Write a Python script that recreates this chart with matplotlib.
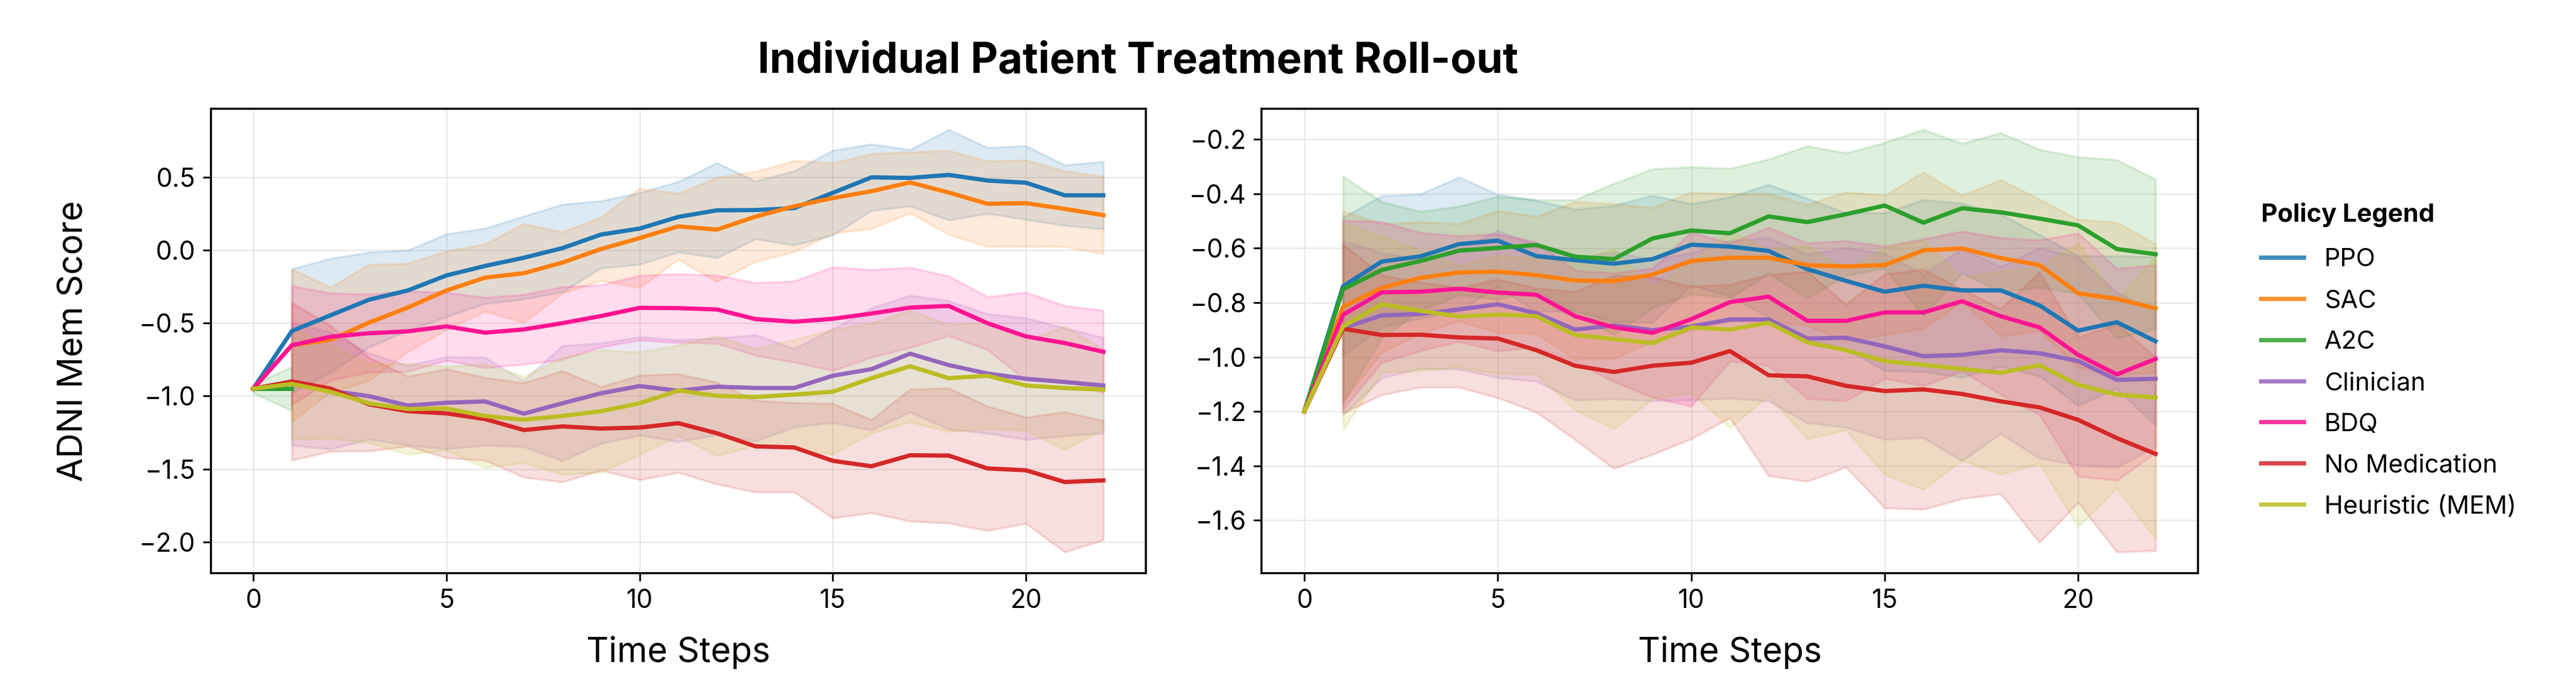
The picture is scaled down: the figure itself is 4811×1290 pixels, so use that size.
import matplotlib
matplotlib.use("Agg")
import matplotlib.pyplot as plt
import numpy as np
from matplotlib.lines import Line2D

plt.rcParams['font.family'] = ['Inter', 'DejaVu Sans']

nan = np.nan
steps = np.arange(23)

policies = ['PPO', 'SAC', 'A2C', 'Clinician', 'BDQ', 'No Medication', 'Heuristic (MEM)']
colors = ['#1f77b4', '#ff7f0e', '#2ca02c', '#9467bd', '#ff1493', '#d62728', '#bcbd22']

# left panel: mean and std per policy
left_ppo_mean = [-0.95, -0.555, -0.447, -0.340, -0.277, -0.174, -0.109, -0.053, 0.013, 0.106, 0.147, 0.227,
                 0.272, 0.274, 0.287, 0.392, 0.498, 0.494, 0.515, 0.476, 0.461, 0.375, 0.375]
left_ppo_std = [nan, 0.426, 0.389, 0.325, 0.275, 0.284, 0.258, 0.284, 0.30, 0.23, 0.245, 0.241,
                0.325, 0.198, 0.254, 0.291, 0.228, 0.193, 0.31, 0.226, 0.252, 0.207, 0.231]
left_sac_mean = [-0.95, -0.652, -0.615, -0.497, -0.394, -0.277, -0.189, -0.159, -0.086, 0.007, 0.082, 0.162,
                 0.140, 0.229, 0.300, 0.356, 0.403, 0.463, 0.394, 0.317, 0.321, 0.282, 0.239]
left_sac_std = [nan, 0.523, 0.359, 0.398, 0.302, 0.269, 0.23, 0.338, 0.211, 0.217, 0.34, 0.226,
                0.356, 0.308, 0.312, 0.241, 0.256, 0.209, 0.287, 0.293, 0.295, 0.259, 0.265]
left_a2c_mean = [-0.95, -0.95]
left_a2c_std = [0.03, 0.15]
left_clin_mean = [-0.95, -0.917, -0.964, -1.001, -1.065, -1.046, -1.037, -1.121, -1.050, -0.981, -0.932, -0.964,
                  -0.936, -0.945, -0.945, -0.861, -0.816, -0.710, -0.788, -0.846, -0.882, -0.904, -0.928]
left_clin_std = [nan, 0.42, 0.40, 0.295, 0.273, 0.316, 0.301, 0.226, 0.394, 0.344, 0.336, 0.349,
                 0.331, 0.364, 0.269, 0.321, 0.418, 0.40, 0.44, 0.409, 0.417, 0.37, 0.328]
left_bdq_mean = [-0.95, -0.652, -0.594, -0.570, -0.557, -0.523, -0.566, -0.544, -0.501, -0.452, -0.396, -0.398,
                 -0.407, -0.473, -0.491, -0.471, -0.435, -0.394, -0.383, -0.501, -0.592, -0.637, -0.697]
left_bdq_std = [nan, 0.407, 0.299, 0.267, 0.275, 0.233, 0.241, 0.239, 0.249, 0.213, 0.222, 0.235,
                0.233, 0.249, 0.278, 0.355, 0.30, 0.274, 0.205, 0.181, 0.302, 0.256, 0.282]
left_nomed_mean = [-0.95, -0.900, -0.949, -1.057, -1.104, -1.119, -1.158, -1.233, -1.208, -1.223, -1.216, -1.186,
                   -1.255, -1.345, -1.352, -1.444, -1.481, -1.406, -1.408, -1.496, -1.509, -1.589, -1.578]
left_nomed_std = [nan, 0.54, 0.43, 0.32, 0.24, 0.304, 0.284, 0.323, 0.381, 0.286, 0.358, 0.338,
                  0.349, 0.313, 0.306, 0.392, 0.319, 0.452, 0.463, 0.426, 0.364, 0.48, 0.409]
left_heur_mean = [-0.95, -0.917, -0.971, -1.050, -1.089, -1.085, -1.137, -1.162, -1.137, -1.104, -1.050, -0.962,
                  -0.999, -1.007, -0.990, -0.971, -0.878, -0.796, -0.878, -0.861, -0.928, -0.945, -0.956]
left_heur_std = [nan, 0.38, 0.32, 0.27, 0.31, 0.287, 0.355, 0.295, 0.40, 0.418, 0.351, 0.31,
                 0.41, 0.33, 0.375, 0.427, 0.377, 0.381, 0.366, 0.364, 0.308, 0.422, 0.272]

# right panel
right_ppo_mean = [-1.2, -0.740, -0.649, -0.630, -0.585, -0.572, -0.629, -0.644, -0.657, -0.640, -0.587, -0.594,
                  -0.610, -0.677, -0.720, -0.760, -0.738, -0.755, -0.755, -0.810, -0.903, -0.872, -0.942]
right_ppo_std = [nan, 0.253, 0.241, 0.229, 0.246, 0.17, 0.204, 0.187, 0.214, 0.234, 0.15, 0.182,
                 0.244, 0.26, 0.25, 0.29, 0.316, 0.32, 0.28, 0.26, 0.275, 0.244, 0.31]
right_sac_mean = [-1.2, -0.815, -0.746, -0.709, -0.689, -0.686, -0.699, -0.719, -0.721, -0.697, -0.647, -0.635,
                  -0.635, -0.662, -0.667, -0.662, -0.608, -0.601, -0.636, -0.662, -0.766, -0.786, -0.821]
right_sac_std = [nan, 0.351, 0.236, 0.205, 0.179, 0.224, 0.215, 0.29, 0.284, 0.246, 0.253, 0.235,
                 0.235, 0.222, 0.274, 0.256, 0.287, 0.195, 0.287, 0.242, 0.271, 0.281, 0.236]
right_a2c_mean = [-1.2, -0.751, -0.680, -0.647, -0.609, -0.599, -0.588, -0.631, -0.640, -0.564, -0.535, -0.545,
                  -0.483, -0.504, -0.475, -0.443, -0.506, -0.453, -0.468, -0.491, -0.516, -0.603, -0.622]
right_a2c_std = [nan, 0.415, 0.251, 0.182, 0.163, 0.189, 0.166, 0.209, 0.278, 0.255, 0.234, 0.238,
                 0.21, 0.28, 0.225, 0.231, 0.342, 0.238, 0.292, 0.254, 0.251, 0.328, 0.275]
right_clin_mean = [-1.2, -0.894, -0.847, -0.842, -0.825, -0.806, -0.839, -0.899, -0.884, -0.901, -0.888, -0.862,
                   -0.862, -0.932, -0.929, -0.961, -0.997, -0.992, -0.975, -0.986, -1.015, -1.084, -1.080]
right_clin_std = [nan, 0.32, 0.23, 0.20, 0.22, 0.27, 0.25, 0.26, 0.27, 0.26, 0.27, 0.29,
                  0.30, 0.31, 0.33, 0.342, 0.30, 0.39, 0.307, 0.387, 0.382, 0.321, 0.25]
right_bdq_mean = [-1.2, -0.845, -0.762, -0.760, -0.749, -0.763, -0.771, -0.850, -0.891, -0.911, -0.861, -0.798,
                  -0.778, -0.867, -0.867, -0.836, -0.836, -0.795, -0.850, -0.891, -0.992, -1.064, -1.007]
right_bdq_std = [nan, 0.347, 0.259, 0.217, 0.194, 0.215, 0.193, 0.168, 0.2, 0.237, 0.32, 0.217,
                 0.254, 0.286, 0.294, 0.243, 0.27, 0.257, 0.288, 0.321, 0.447, 0.389, 0.345]
right_nomed_mean = [-1.2, -0.896, -0.919, -0.918, -0.928, -0.932, -0.975, -1.032, -1.055, -1.032, -1.021, -0.978,
                    -1.067, -1.071, -1.106, -1.125, -1.119, -1.136, -1.163, -1.185, -1.231, -1.298, -1.356]
right_nomed_std = [nan, 0.31, 0.22, 0.193, 0.183, 0.218, 0.228, 0.272, 0.355, 0.326, 0.28, 0.245,
                   0.37, 0.386, 0.299, 0.43, 0.441, 0.385, 0.34, 0.497, 0.304, 0.419, 0.356]
right_heur_mean = [-1.2, -0.888, -0.806, -0.830, -0.851, -0.844, -0.850, -0.919, -0.934, -0.949, -0.891, -0.899,
                   -0.874, -0.946, -0.975, -1.015, -1.029, -1.044, -1.058, -1.030, -1.102, -1.138, -1.149]
right_heur_std = [nan, 0.38, 0.25, 0.22, 0.187, 0.217, 0.214, 0.275, 0.33, 0.205, 0.24, 0.36,
                  0.27, 0.355, 0.294, 0.416, 0.458, 0.335, 0.373, 0.361, 0.522, 0.345, 0.519]

left_series = [(left_ppo_mean, left_ppo_std), (left_sac_mean, left_sac_std), (left_a2c_mean, left_a2c_std),
               (left_clin_mean, left_clin_std), (left_bdq_mean, left_bdq_std),
               (left_nomed_mean, left_nomed_std), (left_heur_mean, left_heur_std)]
right_series = [(right_ppo_mean, right_ppo_std), (right_sac_mean, right_sac_std), (right_a2c_mean, right_a2c_std),
                (right_clin_mean, right_clin_std), (right_bdq_mean, right_bdq_std),
                (right_nomed_mean, right_nomed_std), (right_heur_mean, right_heur_std)]

fig = plt.figure(figsize=(4811 / 300, 1290 / 300), dpi=300)
ax1 = fig.add_axes([0.0818, 0.1705, 0.3630, 0.6725])
ax2 = fig.add_axes([0.4898, 0.1705, 0.3635, 0.6725])

for ax, series in [(ax1, left_series), (ax2, right_series)]:
    for (mean, std), c in zip(series, colors):
        m = np.array(mean)
        s = np.array(std)
        x = steps[:len(m)]
        ax.fill_between(x, m - s, m + s, color=c, alpha=0.15, linewidth=1.0)
        ax.plot(x, m, color=c, linewidth=1.9)
    ax.grid(True, color='#e3e3e3', linewidth=0.6, alpha=0.8)
    ax.set_axisbelow(True)
    ax.tick_params(labelsize=11.5, length=3.5, width=0.8)
    for sp in ax.spines.values():
        sp.set_color('black')
        sp.set_linewidth(0.9)
    ax.set_xlabel('Time Steps', fontsize=15.5, labelpad=10)
    ax.set_xticks([0, 5, 10, 15, 20])

ax1.set_ylabel('ADNI Mem Score', fontsize=15.5, labelpad=22)

fig.text(0.4417, 0.911, 'Individual Patient Treatment Roll-out', fontsize=19, fontweight='bold',
         ha='center', va='center')

handles = [Line2D([0], [0], color=c, linewidth=1.9, alpha=0.85) for c in colors]
leg = fig.legend(handles, policies, loc='upper left', bbox_to_anchor=(0.8778, 0.707), frameon=False,
                 fontsize=11.3, title='Policy Legend', handlelength=1.7, handletextpad=0.8,
                 labelspacing=0.7, borderpad=0, borderaxespad=0, alignment='left')
leg.get_title().set_fontweight('bold')
leg.get_title().set_fontsize(11.3)
leg._legend_box.sep = 9.4

fig.savefig('out.png', dpi=300)
